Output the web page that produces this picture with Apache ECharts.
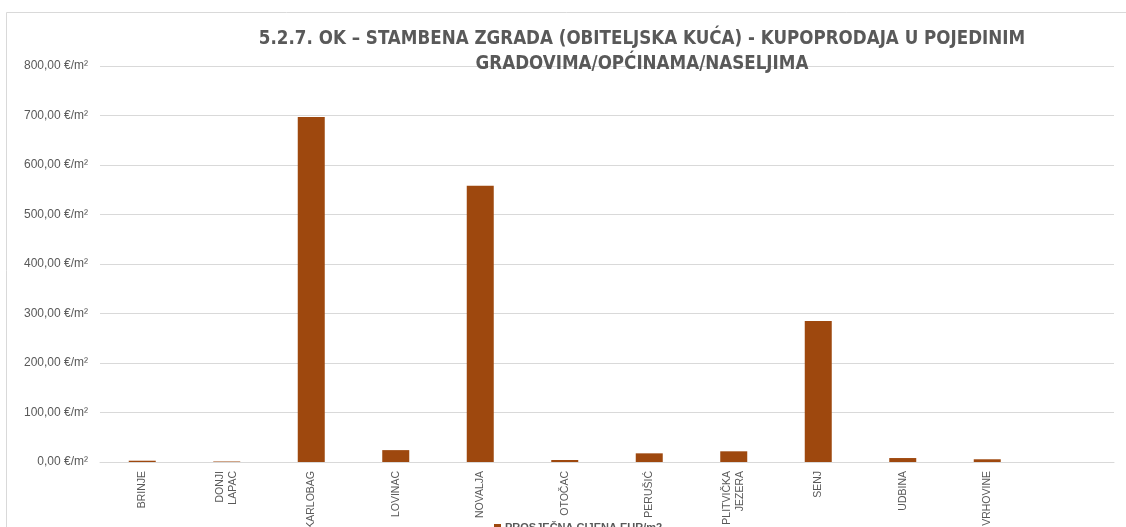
<!DOCTYPE html>
<html>
<head>
<meta charset="utf-8">
<script src="https://cdn.jsdelivr.net/npm/echarts@6/dist/echarts.min.js"></script>
<style>
html, body { margin: 0; padding: 0; background: #fff; }
#main { width: 1126px; height: 527px; }
</style>
</head>
<body>
<div id="main"></div>
<script>
// kategorije i vrijednosti (procjena iz slike)
var categories = ['BRINJE', 'DONJI\nLAPAC', 'KARLOBAG', 'LOVINAC', 'NOVALJA', 'OTOČAC', 'PERUŠIĆ', 'PLITVIČKA\nJEZERA', 'SENJ', 'UDBINA', 'VRHOVINE', ''];
var cijena = [2.6, 1, 697, 24, 558, 4, 17.5, 21.6, 285, 8, 5.5, null];
var seriesName = 'PROSJEČNA CIJENA EUR/m2';
var titleText = '5.2.7. OK – STAMBENA ZGRADA (OBITELJSKA KUĆA) - KUPOPRODAJA U POJEDINIM\nGRADOVIMA/OPĆINAMA/NASELJIMA';

var chart = echarts.init(document.getElementById('main'));

var option = {
    animation: false,
    backgroundColor: '#fff',
    textStyle: {fontFamily: 'Liberation Sans'},
    graphic: [{
        type: 'rect',
        shape: {x: 6.5, y: 12.5, width: 1130, height: 530},
        style: {fill: 'none', stroke: '#d9d9d9', lineWidth: 1},
        silent: true
    }],
    title: {
        text: titleText,
        left: 637,
        top: 22,
        textAlign: 'center',
        textStyle: {
            fontFamily: "'DejaVu Sans Condensed', 'Liberation Sans', sans-serif",
            fontSize: 18.6,
            fontWeight: 'bold',
            color: '#595959',
            lineHeight: 25
        }
    },
    legend: {
        data: [seriesName],
        left: 489,
        top: 517,
        itemWidth: 7,
        itemHeight: 7,
        icon: 'rect',
        itemGap: 4,
        textStyle: {fontSize: 11, color: '#595959', fontWeight: 'bold', padding: [0, 0, 0, -1]}
    },
    grid: {left: 100, right: 12, top: 66, bottom: 65, containLabel: false, outerBoundsMode: 'none'},
    xAxis: {
        type: 'category',
        data: categories,
        axisLine: {lineStyle: {color: '#d9d9d9'}},
        axisTick: {show: false},
        axisLabel: {
            rotate: 90,
            interval: 0,
            color: '#595959',
            fontSize: 10.5,
            margin: 9,
            lineHeight: 13
        }
    },
    yAxis: {
        type: 'value',
        min: 0,
        max: 800,
        interval: 100,
        axisLine: {show: false},
        axisTick: {show: false},
        splitLine: {lineStyle: {color: '#d9d9d9'}},
        axisLabel: {
            color: '#595959',
            fontSize: 12,
            margin: 12,
            formatter: function (v) {
                return v.toFixed(2).replace('.', ',') + ' €/m²';
            }
        }
    },
    series: [{
        name: seriesName,
        type: 'bar',
        data: cijena,
        barWidth: 27,
        itemStyle: {color: '#9e480e'}
    }]
};

chart.setOption(option);
</script>
</body>
</html>
